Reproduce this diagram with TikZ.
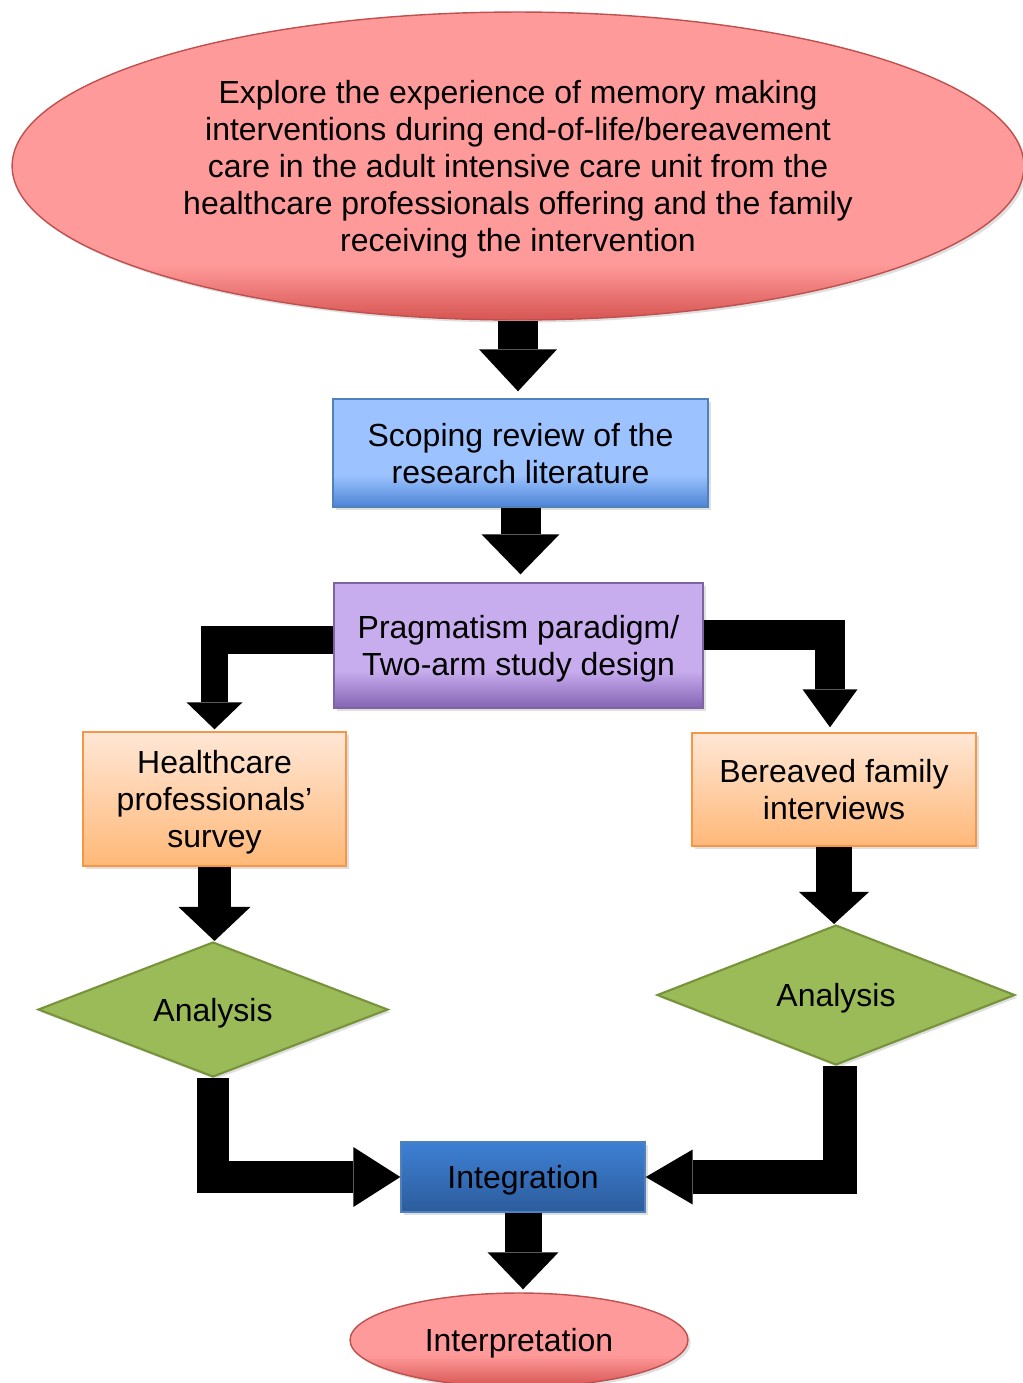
\documentclass[tikz,border=0pt]{standalone}
\usepackage{fontspec}
\setmainfont{Liberation Sans}
\usetikzlibrary{arrows.meta,shapes.geometric,shadows}

% palette
\definecolor{redL}{HTML}{FF9A9A}
\definecolor{redD}{HTML}{D65552}
\definecolor{redB}{HTML}{C0504D}
\definecolor{blueL}{HTML}{9CC3FF}
\definecolor{blueD}{HTML}{4C84D4}
\definecolor{blueB}{HTML}{4F81BD}
\definecolor{purL}{HTML}{C8ADEE}
\definecolor{purD}{HTML}{8363B3}
\definecolor{purB}{HTML}{8064A2}
\definecolor{orT}{HTML}{FFE7D6}
\definecolor{orB}{HTML}{FFB878}
\definecolor{orE}{HTML}{F79646}
\definecolor{grF}{HTML}{9BBB59}
\definecolor{grE}{HTML}{77933C}
\definecolor{inT}{HTML}{3E80D4}
\definecolor{inB}{HTML}{2C5C9C}

% fills that stay flat and darken only near the bottom edge
\pgfdeclareverticalshading{redtall}{100bp}{color(0bp)=(redD); color(25bp)=(redD); color(34bp)=(redL); color(100bp)=(redL)}
\pgfdeclareverticalshading{redsmall}{100bp}{color(0bp)=(redD); color(25bp)=(redD); color(42bp)=(redL); color(100bp)=(redL)}
\pgfdeclareverticalshading{blueband}{100bp}{color(0bp)=(blueD); color(25bp)=(blueD); color(40bp)=(blueL); color(100bp)=(blueL)}
\pgfdeclareverticalshading{purband}{100bp}{color(0bp)=(purD); color(25bp)=(purD); color(40bp)=(purL); color(100bp)=(purL)}

\tikzset{
  card/.style={rectangle, align=center, inner sep=0pt, text depth=0pt, line width=0.8pt,
    drop shadow={opacity=0.25, shadow xshift=1.5pt, shadow yshift=-1.5pt}},
  oval/.style={ellipse, align=center, inner sep=0pt, text depth=0pt, line width=0.8pt, draw=redB,
    drop shadow={opacity=0.25, shadow xshift=1.5pt, shadow yshift=-1.5pt}},
  rhomb/.style={diamond, shape aspect=2.6, align=center, inner sep=0pt, text depth=0pt, line width=1.2pt, draw=grE, fill=grF,
    drop shadow={opacity=0.25, shadow xshift=1.5pt, shadow yshift=-1.5pt}},
  flow/.style n args={3}{draw=black, line width=#1, line join=miter,
    -{Triangle[width=#2, length=#3, line width=0pt]}}
}

\begin{document}
\begin{tikzpicture}[x=0.02cm, y=-0.02cm, font=\fontsize{18.2}{21}\selectfont]
\useasboundingbox (0,0) rectangle (1023,1383);

% boxes
\node[oval, shading=redtall, minimum width=20.24cm, minimum height=6.16cm] (aim) at (518,166)
  {Explore the experience of memory making\\
   interventions during end-of-life/bereavement\\
   care in the adult intensive care unit from the\\
   healthcare professionals offering and the family\\
   receiving the intervention};

\node[card, draw=blueB, shading=blueband, minimum width=7.5cm, minimum height=2.16cm] (scope) at (520.5,453)
  {Scoping review of the\\research literature};

\node[card, draw=purB, shading=purband, minimum width=7.38cm, minimum height=2.5cm] (prag) at (518.5,645.5)
  {Pragmatism paradigm/\\Two-arm study design};

\node[card, draw=orE, top color=orT, bottom color=orB, minimum width=5.26cm, minimum height=2.68cm] (hcp) at (214.5,799)
  {Healthcare\\professionals’\\survey};

\node[card, draw=orE, top color=orT, bottom color=orB, minimum width=5.68cm, minimum height=2.26cm] (fam) at (834,789.5)
  {Bereaved family\\interviews};

\node[rhomb, minimum width=7cm, minimum height=2.7cm] (anaL) at (213,1009.5) {Analysis};
\node[rhomb, minimum width=7.16cm, minimum height=2.8cm] (anaR) at (836,995) {Analysis};

\node[card, draw=blueB, top color=inT, bottom color=inB, minimum width=4.88cm, minimum height=1.4cm] (integ) at (523,1177)
  {Integration};

\node[oval, shading=redsmall, minimum width=6.76cm, minimum height=1.88cm] (interp) at (519,1340)
  {Interpretation};

% block arrows
\draw[flow={0.8cm}{1.56cm}{0.84cm}, shorten >=0.14cm] (aim.south) -- (aim.south |- scope.north);
\draw[flow={0.8cm}{1.56cm}{0.8cm}, shorten >=0.16cm] (scope.south) -- (scope.south |- prag.north);
\draw[flow={0.56cm}{1.12cm}{0.54cm}, shorten >=0.04cm] ([yshift=0.11cm]prag.west) -| (hcp.north);
\draw[flow={0.6cm}{1.1cm}{0.76cm}, shorten >=0.1cm] ([yshift=0.21cm]prag.east) -| ([xshift=-0.08cm]fam.north);
\draw[flow={0.68cm}{1.44cm}{0.68cm}] (hcp.south) -- (hcp.south |- anaL.north);
\draw[flow={0.72cm}{1.4cm}{0.64cm}] (fam.south) -- (fam.south |- anaR.north);
\draw[flow={0.64cm}{1.2cm}{0.94cm}] (anaL.south) |- (integ.west);
\draw[flow={0.68cm}{1.1cm}{0.94cm}] ([xshift=0.08cm]anaR.south) |- (integ.east);
\draw[flow={0.74cm}{1.42cm}{0.74cm}, shorten >=0.06cm] (integ.south) -- (integ.south |- interp.north);
\end{tikzpicture}
\end{document}
